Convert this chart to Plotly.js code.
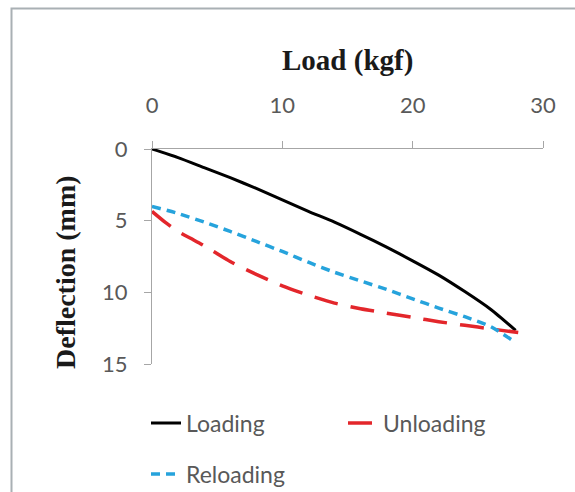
<!DOCTYPE html>
<html>
<head>
<meta charset="utf-8">
<script src="https://cdn.plot.ly/plotly-3.0.1.min.js"></script>
<style>html,body{margin:0;padding:0;background:#fff;}#chart{width:575px;height:492px;}</style>
</head>
<body>
<div id="chart"></div>
<script>
// Load (kgf) and deflection (mm) values
const loadingLoad = [0, 2, 4, 6, 8, 10, 12, 14, 16, 18, 20, 22, 24, 26, 27.9];
const loadingDefl = [0, 0.6, 1.3, 2.0, 2.75, 3.55, 4.35, 5.1, 5.95, 6.85, 7.8, 8.8, 9.95, 11.2, 12.65];

const unloadingLoad = [0, 1, 2, 3, 4, 6, 8, 10, 12, 14, 16, 18, 20, 22, 24, 26, 28.1];
const unloadingDefl = [4.35, 5.1, 5.75, 6.25, 6.75, 7.85, 8.75, 9.55, 10.2, 10.75, 11.15, 11.45, 11.75, 12.05, 12.3, 12.55, 12.8];

const reloadingLoad = [0, 2, 4, 6, 8, 10, 12, 14, 16, 18, 20, 22, 24, 26, 27.9];
const reloadingDefl = [4.0, 4.5, 5.1, 5.75, 6.45, 7.15, 7.9, 8.6, 9.2, 9.8, 10.45, 11.1, 11.7, 12.4, 13.5];

const xTickVals = [0, 10, 20, 30];
const yTickVals = [0, 5, 10, 15];

const tickFont = {family: 'Lato, "Open Sans", sans-serif', size: 22, color: '#595959'};
const axisGray = '#a6a6a6';

const traces = [
  {x: loadingLoad, y: loadingDefl, name: 'Loading', mode: 'lines', legend: 'legend',
   line: {color: '#000000', width: 3, shape: 'spline', smoothing: 0.6}},
  {x: unloadingLoad, y: unloadingDefl, name: 'Unloading', mode: 'lines', legend: 'legend2',
   line: {color: '#e3262b', width: 3.5, dash: '24px,13px', shape: 'spline', smoothing: 0.6}},
  {x: reloadingLoad, y: reloadingDefl, name: 'Reloading', mode: 'lines', legend: 'legend3',
   line: {color: '#26a3dc', width: 3.5, dash: '9px,6px', shape: 'spline', smoothing: 0.6}}
];

const legendFont = {family: 'Lato, "Open Sans", sans-serif', size: 23, color: '#595959'};
function legendAt(px, py) {
  return {orientation: 'h', xref: 'container', yref: 'container', x: px / 575, y: 1 - py / 492,
          xanchor: 'left', yanchor: 'middle', font: legendFont, bgcolor: 'rgba(0,0,0,0)'};
}

const layout = {
  width: 575, height: 492,
  margin: {l: 152, r: 32, t: 149, b: 128},
  paper_bgcolor: '#ffffff', plot_bgcolor: '#ffffff',
  showlegend: true,
  xaxis: {
    side: 'top', range: [0, 30], tickvals: xTickVals, ticktext: xTickVals.map(String),
    showgrid: false, zeroline: false, showline: true, linecolor: axisGray, linewidth: 1,
    ticks: 'outside', ticklen: 7, tickcolor: axisGray, tickwidth: 1,
    tickfont: tickFont, ticklabelstandoff: 19
  },
  yaxis: {
    range: [15, 0], tickvals: yTickVals, ticktext: yTickVals.map(String),
    showgrid: false, zeroline: false, showline: true, linecolor: axisGray, linewidth: 1,
    ticks: 'outside', ticklen: 7, tickcolor: axisGray, tickwidth: 1,
    tickfont: tickFont, ticklabelstandoff: 12
  },
  legend: legendAt(146, 423),
  legend2: legendAt(343, 423),
  legend3: legendAt(146, 474),
  annotations: [
    {text: '<b>Load (kgf)</b>', xref: 'paper', yref: 'paper', x: 0.5, y: (364 - 60) / 215,
     xanchor: 'center', yanchor: 'middle', showarrow: false,
     font: {family: '"Liberation Serif", "Times New Roman", serif', size: 29, color: '#1a1a1a'}},
    {text: '<b>Deflection (mm)</b>', xref: 'paper', yref: 'paper', x: (65 - 152) / 391, y: (364 - 272) / 215,
     xanchor: 'center', yanchor: 'middle', textangle: -90, showarrow: false,
     font: {family: '"Liberation Serif", "Times New Roman", serif', size: 28, color: '#1a1a1a'}}
  ],
  shapes: [
    {type: 'rect', xref: 'paper', yref: 'paper', x0: (11.5 - 152) / 391, x1: 2, y0: -2, y1: (364 - 8.5) / 215,
     line: {color: '#a9b0b4', width: 2}, fillcolor: 'rgba(0,0,0,0)', layer: 'below'}
  ]
};

Plotly.newPlot('chart', traces, layout, {displayModeBar: false, staticPlot: true});
</script>
</body>
</html>
